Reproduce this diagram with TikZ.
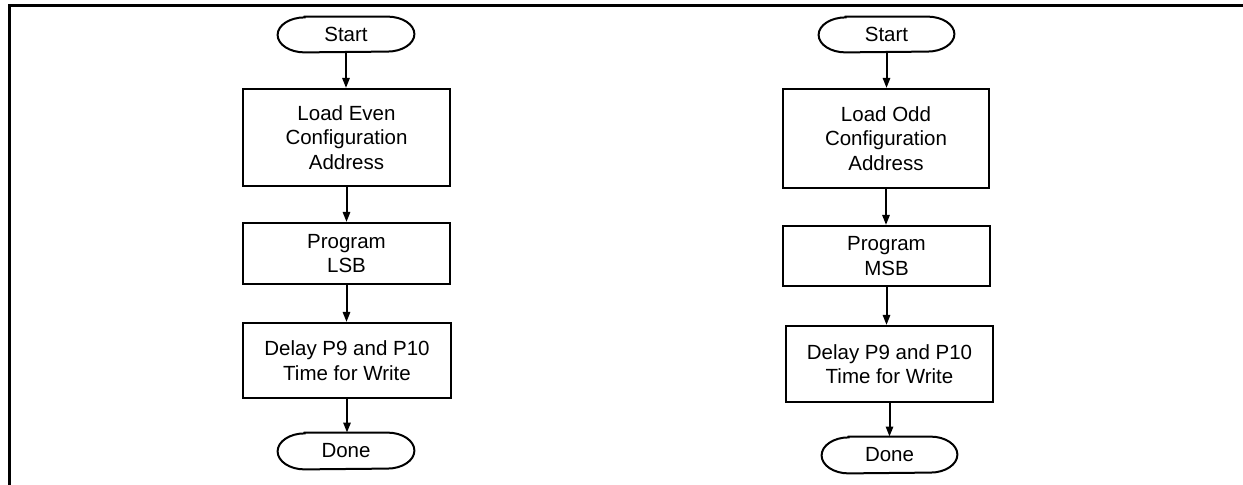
\documentclass[tikz,border=0pt]{standalone}
\usepackage{fontspec}
\setmainfont{Liberation Sans}
\usetikzlibrary{arrows.meta}
\tikzset{
  boxline/.style={line width=1pt, draw=black},
  procbox/.style={boxline, rectangle, inner sep=0pt, align=center,
    font=\fontsize{10.25}{12.25}\selectfont},
  termtext/.style={draw=none, rectangle, inner sep=0pt, align=center,
    minimum width=68pt, font=\fontsize{10.25}{12.25}\selectfont},
  flowarrow/.style={line width=1pt, -{Triangle[length=5pt,width=3.6pt]}},
  framestyle/.style={line width=1.5pt}
}
\newcommand\pillshape[2]{%
  \draw[boxline] ([xshift=13.5pt]#1.north west) -- ([xshift=-13.5pt]#1.north east)
    arc[start angle=90, end angle=-90, x radius=13.5pt, y radius=#2]
    -- ([xshift=13.5pt]#1.south west)
    arc[start angle=-90, end angle=-270, x radius=13.5pt, y radius=#2] -- cycle;}
\begin{document}
\begin{tikzpicture}[x=0.5pt, y=-0.5pt]
\useasboundingbox (0,0) rectangle (1243,485);
% frame
\coordinate (fb) at (9,485);
\coordinate (fc) at (9,6);
\coordinate (fr) at (1243,6);
\draw[framestyle] (fb) -- (fc) -- (fr);

% left column
\node[termtext, minimum height=17.5pt] (s1) at (346,34.5) {Start};
\node[procbox, minimum width=103.5pt, minimum height=48.5pt] (a1) at (346.5,137.5) {Load Even\\Configuration\\Address};
\node[procbox, minimum width=103.5pt, minimum height=30.5pt] (b1) at (346.5,253.5) {Program\\LSB};
\node[procbox, minimum width=104pt, minimum height=37.5pt] (c1) at (347,360.5) {Delay P9 and P10\\Time for Write};
\node[termtext, minimum height=18pt] (d1) at (346,451) {Done};
\pillshape{s1}{8.75pt}
\pillshape{d1}{9pt}
\draw[flowarrow] (s1.south) -- (s1.south |- a1.north);
\draw[flowarrow] (a1.south) -- (a1.south |- b1.north);
\draw[flowarrow] (b1.south) -- (b1.south |- c1.north);
\draw[flowarrow] (c1.south) -- (c1.south |- d1.north);

% right column
\node[termtext, minimum width=67.5pt, minimum height=17.5pt] (s2) at (886.5,34.5) {Start};
\node[procbox, minimum width=103pt, minimum height=49.5pt] (a2) at (886,138.5) {Load Odd\\Configuration\\Address};
\node[procbox, minimum width=103.5pt, minimum height=30pt] (b2) at (886.5,256) {Program\\MSB};
\node[procbox, minimum width=103.5pt, minimum height=38pt] (c2) at (889.5,364) {Delay P9 and P10\\Time for Write};
\node[termtext, minimum width=67.5pt, minimum height=18pt] (d2) at (889.5,455) {Done};
\pillshape{s2}{8.75pt}
\pillshape{d2}{9pt}
\draw[flowarrow] (s2.south) -- (s2.south |- a2.north);
\draw[flowarrow] (a2.south) -- (a2.south |- b2.north);
\draw[flowarrow] (b2.south) -- (b2.south |- c2.north);
\draw[flowarrow] (c2.south) -- (c2.south |- d2.north);
\end{tikzpicture}
\end{document}
